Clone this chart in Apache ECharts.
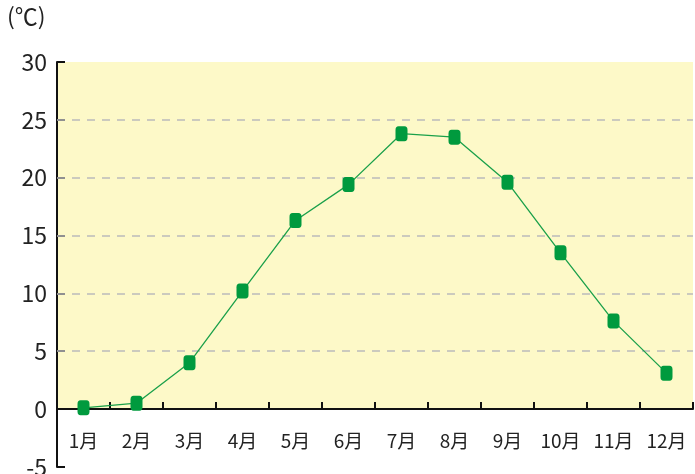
<!DOCTYPE html>
<html><head><meta charset="utf-8">
<script src="https://cdn.jsdelivr.net/npm/echarts@6/dist/echarts.min.js"></script>
<style>html,body{margin:0;padding:0;background:#fff}#c{width:695px;height:474px}</style>
</head><body><div id="c"></div>
<script>
const months = ['1月','2月','3月','4月','5月','6月','7月','8月','9月','10月','11月','12月'];
const temps = [0.1, 0.5, 4.0, 10.2, 16.3, 19.4, 23.8, 23.5, 19.6, 13.5, 7.6, 3.1];
const gridValues = [5, 10, 15, 20, 25];
const unitLabel = '(℃)';
const font = '"Noto Sans CJK JP", "Noto Sans", sans-serif';
const axisColor = '#111';

const chart = echarts.init(document.getElementById('c'));
chart.setOption({
  animation: false,
  graphic: [{type:'text', left: 7, top: 5, style:{text: unitLabel, font: '23px ' + font, fill:'#222'}}],
  grid: [
    {left: 57, right: 2, top: 62, bottom: 65, show: true, backgroundColor: '#fdf9c8', borderWidth: 0, outerBoundsMode: 'none'},
    {left: 57, right: 2, top: 409, bottom: 7, outerBoundsMode: 'none'}
  ],
  xAxis: [{
    gridIndex: 0, type: 'category', data: months, boundaryGap: true, position: 'bottom',
    axisLine: {lineStyle: {color: axisColor, width: 2}},
    axisTick: {show: true, inside: true, length: 7, interval: 0, lineStyle: {color: axisColor, width: 2}},
    axisLabel: {show: true, interval: 0, margin: 22, fontSize: 19, color: '#222', fontFamily: font},
    splitLine: {show: false}
  }, {
    gridIndex: 1, type: 'category', data: months, show: false
  }],
  yAxis: [{
    gridIndex: 0, type: 'value', min: 0, max: 30, interval: 5,
    axisLine: {show: true, lineStyle: {color: axisColor, width: 2}},
    axisTick: {show: true, inside: true, length: 8, lineStyle: {color: axisColor, width: 2}},
    axisLabel: {margin: 10, fontSize: 23, color: '#222', fontFamily: font},
    splitLine: {show: false}
  }, {
    gridIndex: 1, type: 'value', min: -5, max: 0, interval: 5,
    axisLine: {show: true, lineStyle: {color: axisColor, width: 2}},
    axisTick: {show: true, inside: true, length: 8, lineStyle: {color: axisColor, width: 2}},
    axisLabel: {margin: 10, fontSize: 23, color: '#222', fontFamily: font, showMaxLabel: false},
    splitLine: {show: false}
  }],
  series: [{
    type: 'line', data: temps, xAxisIndex: 0, yAxisIndex: 0,
    symbol: 'roundRect', symbolSize: [12, 15], clip: false,
    itemStyle: {color: '#009a3e'},
    lineStyle: {color: '#1aa04a', width: 1.3},
    z: 5,
    markLine: {silent: true, symbol: 'none', label: {show: false},
      lineStyle: {color: '#bbbbbb', type: [8, 7], width: 1.5},
      data: gridValues.map(v => ({yAxis: v}))}
  }]
});
</script></body></html>
